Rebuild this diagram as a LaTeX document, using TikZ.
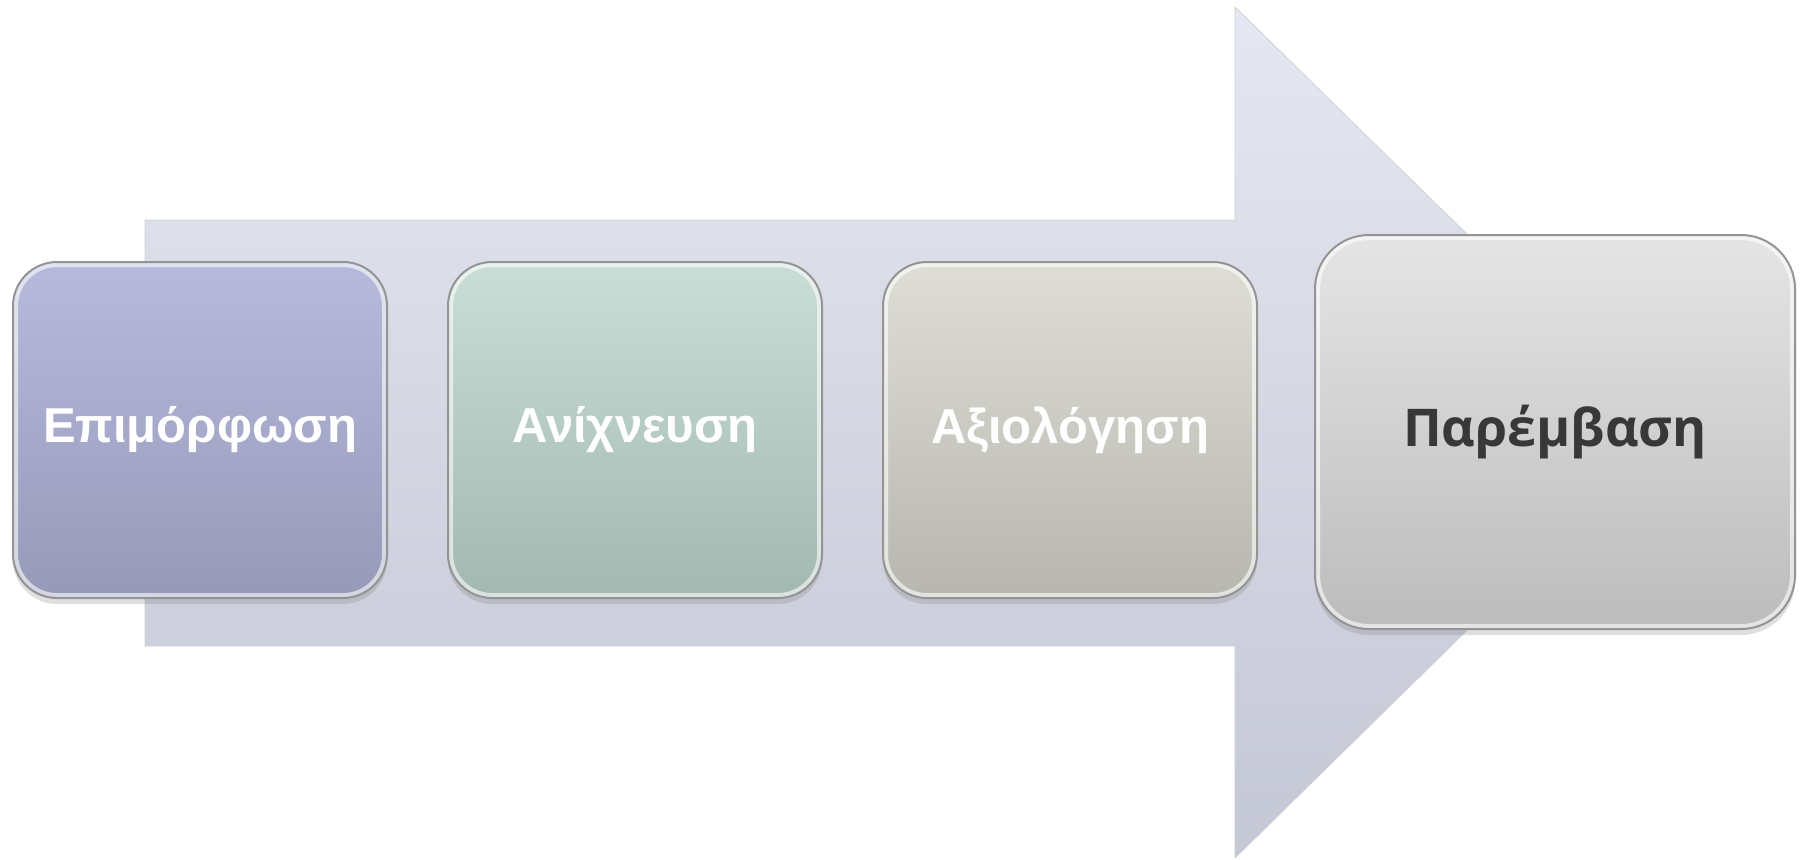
\documentclass[tikz,border=0pt]{standalone}
\usepackage{fontspec}
\setmainfont{Liberation Sans}
\newfontfamily\lastfont{Open Sans}
\usetikzlibrary{positioning,shadows}

\definecolor{epiTop}{RGB}{183,186,220}
\definecolor{epiBot}{RGB}{150,153,184}
\definecolor{aniTop}{RGB}{200,222,214}
\definecolor{aniBot}{RGB}{163,184,176}
\definecolor{axiTop}{RGB}{222,222,214}
\definecolor{axiBot}{RGB}{183,183,176}
\definecolor{parTop}{RGB}{229,229,229}
\definecolor{parBot}{RGB}{188,188,188}
\definecolor{arrTop}{RGB}{229,232,242}
\definecolor{arrBot}{RGB}{196,199,212}

\begin{document}
\begin{tikzpicture}[x=0.5pt,y=-0.5pt,node distance=217.5pt,bevel/.style={path picture={\draw[white, opacity=0.6, line width=5pt, rounded corners=#1] (path picture bounding box.north west) rectangle (path picture bounding box.south east);}},stage/.style={rectangle, rounded corners=22pt, bevel=22pt, minimum width=187pt, minimum height=168pt, inner sep=0pt, draw=black!42, line width=1pt, drop shadow={shadow xshift=0pt, shadow yshift=-3pt, opacity=0.25}, text=white, font=\bfseries\fontsize{24.5}{29}\selectfont},last/.style={stage, rounded corners=27pt, bevel=27pt, minimum width=240pt, minimum height=197pt, text=black!78, font=\lastfont\bfseries\fontsize{26}{30}\selectfont}]
                \useasboundingbox (0,0) rectangle (1807,859);
                % big arrow behind the stages
                \draw[draw=black!18, top color=arrTop, bottom color=arrBot] (145,220) -- (1235,220) -- (1235,7) -- (1669,432) -- (1235,858) -- (1235,646) -- (145,646) -- cycle;
                \node[stage, top color=epiTop, bottom color=epiBot] (epimorfosi) at (200,430) {Επιμόρφωση};
                \node[stage, top color=aniTop, bottom color=aniBot, right of=epimorfosi] (anixneusi) {Ανίχνευση};
                \node[stage, top color=axiTop, bottom color=axiBot, right of=anixneusi] (axiologisi) {Αξιολόγηση};
                \node[last, top color=parTop, bottom color=parBot, right of=axiologisi, xshift=25pt, yshift=-1pt] (paremvasi) {Παρέμβαση};
            \end{tikzpicture}
\end{document}
